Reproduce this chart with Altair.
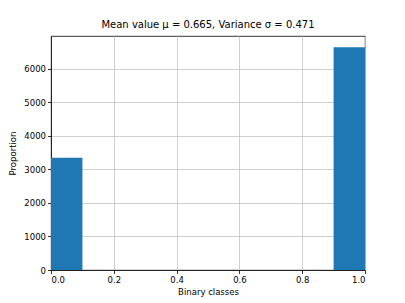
import altair as alt
import pandas as pd

bin_starts = [0.0, 0.1, 0.2, 0.3, 0.4, 0.5, 0.6, 0.7, 0.8, 0.9]
bin_ends = [0.1, 0.2, 0.3, 0.4, 0.5, 0.6, 0.7, 0.8, 0.9, 1.0]
counts = [3350, 0, 0, 0, 0, 0, 0, 0, 0, 6650]
x_ticks = [0.0, 0.2, 0.4, 0.6, 0.8, 1.0]
y_ticks = [0, 1000, 2000, 3000, 4000, 5000, 6000]
title_text = "Mean value μ = 0.665, Variance σ = 0.471"

df = pd.DataFrame({"start": bin_starts, "end": bin_ends, "count": counts})
ymax = max(counts) * 1.05

FONT = "DejaVu Sans"
GRID = "#c4c4c4"

bars = alt.Chart(df).mark_bar(color="#1f77b4", strokeWidth=0, orient="vertical").encode(
    x=alt.X("start:Q",
            scale=alt.Scale(domain=[0, 1], nice=False, zero=False, padding=0),
            axis=alt.Axis(title="Binary classes", values=x_ticks, format=".1f",
                          grid=True, gridColor=GRID, gridWidth=0.8,
                          domainColor="black", tickColor="black", tickSize=3.5,
                          labelPadding=2, titlePadding=3)),
    x2="end:Q",
    y=alt.Y("count:Q",
            scale=alt.Scale(domain=[0, ymax], nice=False, padding=0),
            axis=alt.Axis(title="Proportion", values=y_ticks, format="d",
                          grid=True, gridColor=GRID, gridWidth=0.8,
                          domainColor="black", tickColor="black", tickSize=3.5,
                          labelPadding=2, titlePadding=6)),
    y2=alt.datum(0),
)

chart = bars.properties(
    width=314,
    height=234,
    title=alt.TitleParams(title_text, font=FONT, fontSize=10, fontWeight="normal",
                          color="black", offset=6),
    autosize=alt.AutoSizeParams(type="none"),
    padding={"left": 43, "top": 28, "right": 32, "bottom": 33},
).configure_axis(
    labelFont=FONT, titleFont=FONT, labelFontSize=8.5, titleFontSize=8.5,
    titleFontWeight="normal", labelColor="black", titleColor="black",
    zindex=1, domainWidth=0.8, tickWidth=0.8,
).configure_view(
    stroke="black", strokeWidth=0.8,
)

chart.save("out.html", embed_options={"renderer": "svg", "actions": False})
